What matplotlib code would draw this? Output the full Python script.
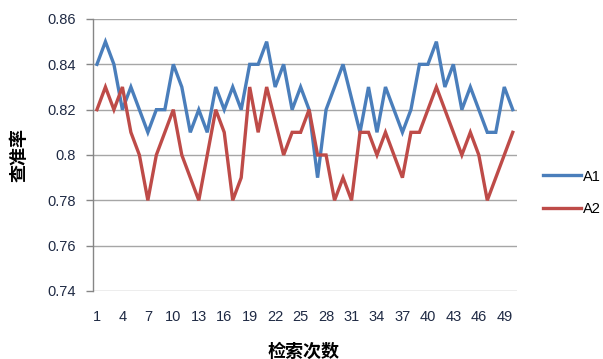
import matplotlib
matplotlib.use("Agg")
import matplotlib.pyplot as plt

# 检索次数 1..50
runs = list(range(1, 51))

a1 = [0.84, 0.85, 0.84, 0.82, 0.83, 0.82, 0.81, 0.82, 0.82, 0.84,
      0.83, 0.81, 0.82, 0.81, 0.83, 0.82, 0.83, 0.82, 0.84, 0.84,
      0.85, 0.83, 0.84, 0.82, 0.83, 0.82, 0.79, 0.82, 0.83, 0.84,
      0.825, 0.81, 0.83, 0.81, 0.83, 0.82, 0.81, 0.82, 0.84, 0.84,
      0.85, 0.83, 0.84, 0.82, 0.83, 0.82, 0.81, 0.81, 0.83, 0.82]

a2 = [0.82, 0.83, 0.82, 0.83, 0.81, 0.80, 0.78, 0.80, 0.81, 0.82,
      0.80, 0.79, 0.78, 0.80, 0.82, 0.81, 0.78, 0.79, 0.83, 0.81,
      0.83, 0.815, 0.80, 0.81, 0.81, 0.82, 0.80, 0.80, 0.78, 0.79,
      0.78, 0.81, 0.81, 0.80, 0.81, 0.80, 0.79, 0.81, 0.81, 0.82,
      0.83, 0.82, 0.81, 0.80, 0.81, 0.80, 0.78, 0.79, 0.80, 0.81]

xticks = list(range(1, 51, 3))
yticks = [0.74, 0.76, 0.78, 0.80, 0.82, 0.84, 0.86]
ylabels = ["0.74", "0.76", "0.78", "0.8", "0.82", "0.84", "0.86"]

plt.rcParams["font.family"] = ["Liberation Sans", "Noto Sans CJK SC", "DejaVu Sans"]

W, H = 603, 359
fig = plt.figure(figsize=(W / 100, H / 100), dpi=100)
ax = fig.add_axes([92.7 / W, 1 - 291 / H, (517 - 92.7) / W, (291 - 19) / H])

ax.plot(runs, a1, color="#4a7ebb", lw=2.4, label="A1", solid_joinstyle="miter")
ax.plot(runs, a2, color="#be4b48", lw=2.4, label="A2", solid_joinstyle="miter")

ax.set_xlim(0.5, 50.5)
ax.set_ylim(0.74, 0.86)
ax.set_xticks(xticks)
ax.set_yticks(yticks)
ax.set_yticklabels(ylabels)
ax.grid(axis="y", color="#a6a6a6", lw=1.0)
ax.set_axisbelow(True)

for s in ["top", "right", "bottom"]:
    ax.spines[s].set_visible(False)
ax.spines["left"].set_color("#868686")
ax.spines["left"].set_linewidth(1.0)

ax.tick_params(axis="y", length=5, width=1, color="#868686", pad=7,
               labelsize=10.5, labelcolor="#1f2a44")
ax.tick_params(axis="x", length=0, pad=14, labelsize=10.5, labelcolor="#1f2a44")

fig.text(19 / W, 1 - 155 / H, "查准率", rotation=90, ha="center", va="center",
         fontsize=13, fontweight="bold", family=["Noto Sans CJK SC", "DejaVu Sans"])
fig.text(303 / W, 1 - 351 / H, "检索次数", ha="center", va="center",
         fontsize=13, fontweight="bold", family=["Noto Sans CJK SC", "DejaVu Sans"])

fig.legend(loc="center left", bbox_to_anchor=(543 / W, 1 - 193 / H),
           frameon=False, borderpad=0, borderaxespad=0, handlelength=2.6,
           handletextpad=0.15, labelspacing=1.3, fontsize=10.5)

fig.savefig("out.png", dpi=100)
